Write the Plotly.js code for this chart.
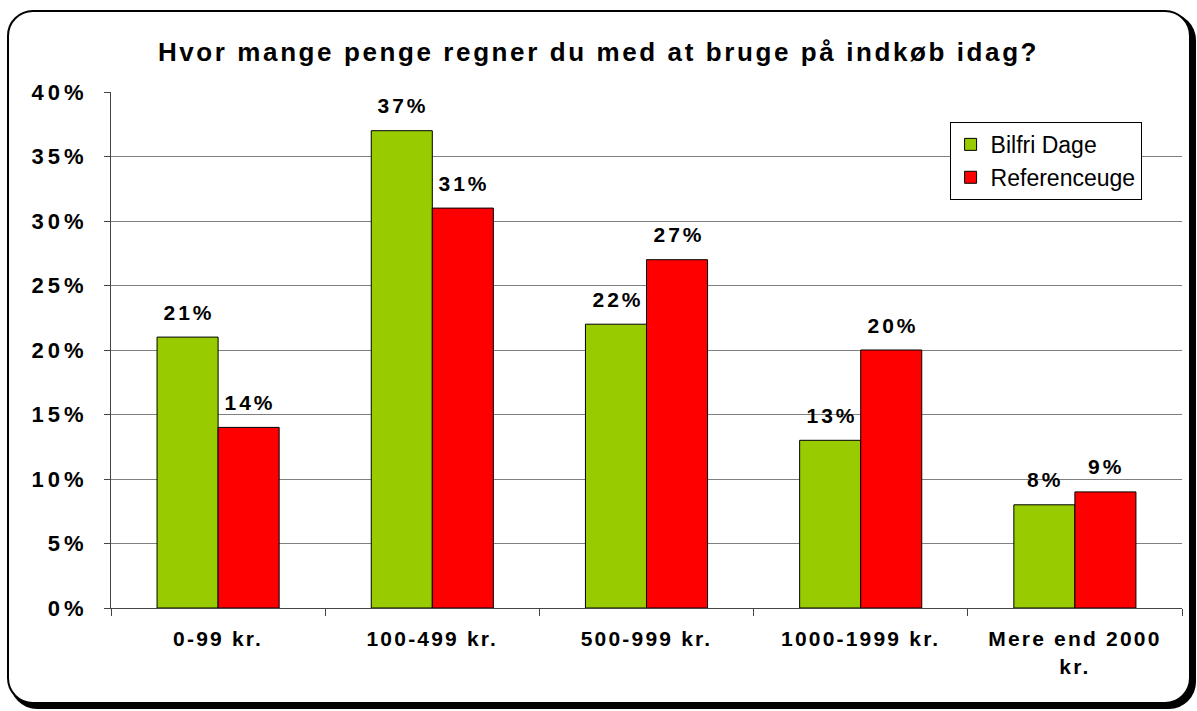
<!DOCTYPE html>
<html>
<head>
<meta charset="utf-8">
<script src="https://cdn.plot.ly/plotly-3.0.1.min.js"></script>
<style>
  html, body { margin: 0; padding: 0; background: #fff; }
  #frame { position: absolute; left: 7px; top: 10px; width: 1180px; height: 690px;
           border: 2px solid #000; border-radius: 26px; box-shadow: 4px 4px 0 1px #000; background: #fff; }
  #chart { position: absolute; left: 0; top: 0; width: 1197px; height: 711px; }
  #chart text.gtitle { letter-spacing: 2.6px; }
  #chart .ytick text { letter-spacing: 4px; }
  #chart .xtick text { letter-spacing: 2.2px; }
  #chart .annotation-text { letter-spacing: 3px; }
</style>
</head>
<body>
<div id="frame"></div>
<div id="chart"></div>
<script>
const categories = ['0-99 kr.', '100-499 kr.', '500-999 kr.', '1000-1999 kr.', 'Mere end 2000<br>kr.'];
const bilfriDage = [21, 37, 22, 13, 8];
const referenceuge = [14, 31, 27, 20, 9];
const seriesNames = ['Bilfri Dage', 'Referenceuge'];
const yTickVals = [0, 5, 10, 15, 20, 25, 30, 35, 40];
const yTickText = yTickVals.map(v => v + '%');

const FONT = 'Liberation Sans, Arial, sans-serif';
const green = '#99CC00', red = '#FF0000';
const traces = [
  { type: 'bar', name: seriesNames[0], x: categories, y: bilfriDage,
    marker: { color: green, line: { color: '#000', width: 1 } } },
  { type: 'bar', name: seriesNames[1], x: categories, y: referenceuge,
    marker: { color: red, line: { color: '#000', width: 1 } } }
];

const annotations = [];
[bilfriDage, referenceuge].forEach((arr, si) => {
  arr.forEach((v, i) => {
    annotations.push({ x: i, y: v, xref: 'x', yref: 'y', text: v + '%', showarrow: false,
      xshift: si === 0 ? -29 : 32, yshift: 25,
      font: { family: FONT, size: 21, color: '#000', weight: 'bold' } });
  });
});

const layout = {
  width: 1197, height: 711,
  paper_bgcolor: 'rgba(0,0,0,0)', plot_bgcolor: 'rgba(0,0,0,0)',
  margin: { l: 111, r: 15, t: 92, b: 103 },
  barmode: 'group', bargap: 0.43, bargroupgap: 0,
  title: { text: '<b>Hvor mange penge regner du med at bruge på indkøb idag?</b>',
    x: 0.5, xanchor: 'center', xref: 'container', y: 0.927, yanchor: 'middle',
    font: { family: FONT, size: 26, color: '#000' } },
  xaxis: { type: 'category', showline: true, linecolor: '#444', linewidth: 1,
    ticks: 'outside', tickson: 'boundaries', ticklen: 7, tickcolor: '#444',
    ticklabelstandoff: 12,
    tickfont: { family: FONT, size: 21, color: '#000', weight: 'bold' },
    showgrid: false },
  yaxis: { range: [0, 40], tickvals: yTickVals, ticktext: yTickText,
    showline: true, linecolor: '#444', linewidth: 1, ticks: 'outside', ticklen: 6, tickcolor: '#444',
    ticklabelstandoff: 12,
    showgrid: true, gridcolor: '#808080', gridwidth: 1, zeroline: false,
    tickfont: { family: FONT, size: 22, color: '#000', weight: 'bold' } },
  legend: { x: 0.783, xanchor: 'left', y: 0.942, yanchor: 'top',
    bordercolor: '#000', borderwidth: 1, bgcolor: '#fff',
    font: { family: FONT, size: 23, color: '#000' },
    itemwidth: 30 },
  annotations: annotations,
  showlegend: true
};

Plotly.newPlot('chart', traces, layout, { displayModeBar: false, staticPlot: true });
</script>
</body>
</html>
